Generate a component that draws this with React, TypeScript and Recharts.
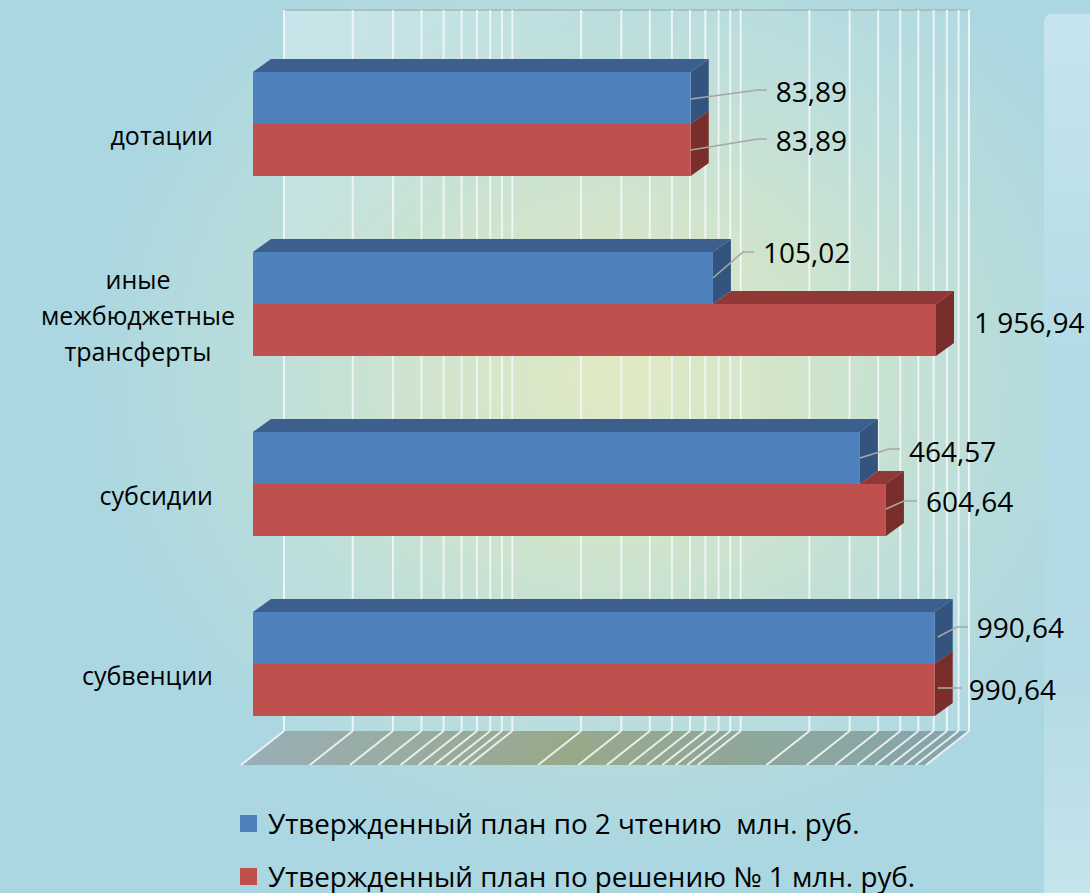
import React from 'react';
import { BarChart, Bar, XAxis, YAxis, ReferenceLine, ReferenceArea } from 'recharts';

// ---------- data ----------
const categories = ['дотации', 'иные\nмежбюджетные\nтрансферты', 'субсидии', 'субвенции'];
const planSecondReading = [83.89, 105.02, 464.57, 990.64];
const planDecisionOne = [83.89, 1956.94, 604.64, 990.64];
const seriesNames = [
  'Утвержденный план по 2 чтению  млн. руб.',
  'Утвержденный план по решению № 1 млн. руб.',
];
const gridTicks = [
  1, 2, 3, 4, 5, 6, 7, 8, 9,
  10, 20, 30, 40, 50, 60, 70, 80, 90,
  100, 200, 300, 400, 500, 600, 700, 800, 900, 1000,
];
const axisDomain = [1, 1000];

const data = categories.map((name, i) => ({
  name,
  plan2: planSecondReading[i],
  plan1: planDecisionOne[i],
}));

// ---------- style / layout constants ----------
const FONT = '"Open Sans", "Noto Sans", sans-serif';
const COLORS = {
  blue: { front: '#4f81bd', top: '#3c5f8e', side: '#33547f' },
  red: { front: '#c0504d', top: '#8f3835', side: '#7a2e2c' },
};
const DEPTH_X = 18;
const DEPTH_Y = 13;
const FRONT_PAD_RIGHT = 88; // front scale runs to the data maximum
const AXIS_MAX_FROM_RIGHT = 154; // pixel distance of the 1000 mark from the plot's right edge
const BACK_PAD_LEFT = 31;
const BACK_PAD_RIGHT = 121;
const WALL_RAISE_TOP = 24;
const FLOOR_RAISE = 23;
const FLOOR_DX = 43;
const FLOOR_DY = 34;

// label placement relative to (bar end, bar middle)
const labelLayout = [
  [
    { line: [[0, 1], [67, -8], [76, -8]], text: [85, -6] },
    { line: [[0, 0], [30, -26], [41, -26]], text: [50, -25] },
    { line: [[0, 0], [29, -9], [40, -9]], text: [49, -6] },
    { line: [[3, -1], [22, -11], [33, -11]], text: [42, -10] },
  ],
  [
    { line: [[0, 0], [67, -11], [76, -11]], text: [85, -9] },
    { line: null, text: [38, -7] },
    { line: [[0, -1], [18, -9], [31, -9]], text: [40, -8] },
    { line: [[3, -2], [27, -2]], text: [34, 0] },
  ],
];

function fmt(v: number) {
  const [i, d] = v.toFixed(2).split('.');
  return i.replace(/\B(?=(\d{3})+(?!\d))/g, ' ') + ',' + d;
}

function makeBarShape(series: 0 | 1) {
  const c = series === 0 ? COLORS.blue : COLORS.red;
  return (props: any) => {
    const { x, y, width, height, background, payload, value } = props;
    const idx = categories.indexOf(payload.name);
    let w = width;
    if (background && typeof background.x === 'number') {
      // the value axis ends at 1000: longer bars are cut there
      const maxRight = background.x + background.width - AXIS_MAX_FROM_RIGHT;
      w = Math.min(width, maxRight - x);
    }
    const xe = x + w;
    const h = height;
    const ym = y + h / 2;
    const top = `${x},${y} ${x + DEPTH_X},${y - DEPTH_Y} ${xe + DEPTH_X},${y - DEPTH_Y} ${xe},${y}`;
    const side = `${xe},${y} ${xe + DEPTH_X},${y - DEPTH_Y} ${xe + DEPTH_X},${y + h - DEPTH_Y} ${xe},${y + h}`;
    const lay = labelLayout[series][idx];
    const clipId = `redTopClip-${idx}`;
    return (
      <g>
        {series === 0 && (
          <defs>
            <clipPath id={clipId}>
              <polygon
                points={`${xe},${y + h} ${xe + DEPTH_X},${y + h - DEPTH_Y} 3000,${y + h - DEPTH_Y} 3000,${y + h + 2} ${xe},${y + h + 2}`}
              />
            </clipPath>
          </defs>
        )}
        <polygon
          points={top}
          fill={c.top}
          clipPath={series === 1 ? `url(#${clipId})` : undefined}
        />
        <polygon points={side} fill={c.side} />
        <rect x={x} y={y} width={w} height={h} fill={c.front} />
        {lay && lay.line && (
          <polyline
            points={lay.line.map(([dx, dy]) => `${xe + dx},${ym + dy}`).join(' ')}
            fill="none"
            stroke="#a6a6a6"
            strokeWidth={1.6}
          />
        )}
        {lay && (
          <text
            x={xe + lay.text[0]}
            y={ym + lay.text[1]}
            dy="0.36em"
            fontFamily={FONT}
            fontSize={28}
            fill="#000"
          >
            {fmt(value)}
          </text>
        )}
      </g>
    );
  };
}

const BlueShape = makeBarShape(0);
const RedShape = makeBarShape(1);

const WallLine = (props: any) => {
  const { x1, y1, y2 } = props;
  const top = Math.min(y1, y2);
  const bottom = Math.max(y1, y2);
  const yb = bottom - FLOOR_RAISE;
  return (
    <g>
      <line x1={x1} y1={top - WALL_RAISE_TOP} x2={x1} y2={yb} stroke="#f2f7f7" strokeWidth={2} opacity={0.9} />
      <line x1={x1} y1={yb} x2={x1 - FLOOR_DX} y2={yb + FLOOR_DY} stroke="#f2f7f7" strokeWidth={2} opacity={0.9} />
    </g>
  );
};

const FloorAndWall = (props: any) => {
  const { x, y, width, height } = props;
  const yb = y + height - FLOOR_RAISE;
  const yt = y - WALL_RAISE_TOP;
  return (
    <g>
      <rect x={x} y={yt} width={width} height={yb - yt} fill="url(#wallGrad)" />
      <line x1={x} y1={yt} x2={x + width} y2={yt} stroke="#9fb9b2" strokeWidth={1.5} />
      <polygon
        points={`${x},${yb} ${x + width},${yb} ${x + width - FLOOR_DX},${yb + FLOOR_DY} ${x - FLOOR_DX},${yb + FLOOR_DY}`}
        fill="url(#floorGrad)"
      />
    </g>
  );
};

const CategoryTick = (props: any) => {
  const { x, y, payload } = props;
  const lines = String(payload.value).split('\n');
  const fs = 25;
  const lh = 36;
  const yc = y + 12;
  if (lines.length === 1) {
    return (
      <text x={x} y={yc} dy="0.36em" textAnchor="end" fontFamily={FONT} fontSize={fs} fill="#000">
        {lines[0]}
      </text>
    );
  }
  const cx = x - 75;
  const y0 = yc - ((lines.length - 1) * lh) / 2;
  return (
    <text textAnchor="middle" fontFamily={FONT} fontSize={fs} fill="#000">
      {lines.map((l, i) => (
        <tspan key={i} x={cx} y={y0 + i * lh} dy="0.36em">
          {l}
        </tspan>
      ))}
    </text>
  );
};

export default function App() {
  return (
    <div
      style={{
        position: 'absolute',
        left: 0,
        top: 0,
        width: 1090,
        height: 893,
        overflow: 'hidden',
        background:
          'radial-gradient(ellipse 50% 55% at 57% 42%, #e0e9c0 0%, #cde3c9 35%, #b8dcdb 70%, #abd7e2 100%)',
        fontFamily: FONT,
      }}
    >
      <div
        style={{
          position: 'absolute',
          left: 1044,
          top: 14,
          width: 60,
          height: 890,
          borderRadius: 8,
          background: 'linear-gradient(180deg, #c7e5ee 0%, #b0dae5 45%, #b4dbe5 75%, #c6e5ec 100%)',
        }}
      />
      <div style={{ position: 'absolute', left: 0, top: 0 }}>
        <BarChart
          width={1090}
          height={893}
          layout="vertical"
          data={data}
          margin={{ top: 34, right: 0, bottom: 139, left: 0 }}
          barSize={52}
          barGap={0}
          barCategoryGap={38}
        >
          <defs>
            <linearGradient id="floorGrad" x1="0" y1="0" x2="1" y2="0">
              <stop offset="0%" stopColor="#98afb8" />
              <stop offset="45%" stopColor="#98a98a" />
              <stop offset="100%" stopColor="#84a5ae" />
            </linearGradient>
            <linearGradient id="wallGrad" x1="0" y1="0" x2="1" y2="1">
              <stop offset="0%" stopColor="#ffffff" stopOpacity={0.35} />
              <stop offset="25%" stopColor="#ffffff" stopOpacity={0.06} />
              <stop offset="100%" stopColor="#ffffff" stopOpacity={0.04} />
            </linearGradient>
          </defs>
          <XAxis
            xAxisId="front"
            type="number"
            scale="log"
            domain={[axisDomain[0], 'dataMax']}
            padding={{ left: 0, right: FRONT_PAD_RIGHT }}
            hide
          />
          <XAxis
            xAxisId="back"
            type="number"
            scale="log"
            domain={axisDomain}
            allowDataOverflow
            padding={{ left: BACK_PAD_LEFT, right: BACK_PAD_RIGHT }}
            hide
          />
          <YAxis
            type="category"
            dataKey="name"
            width={253}
            axisLine={false}
            tickLine={false}
            tickSize={0}
            tickMargin={40}
            tick={<CategoryTick />}
            interval={0}
          />
          <ReferenceArea
            xAxisId="back"
            x1={axisDomain[0]}
            x2={axisDomain[1]}
            shape={<FloorAndWall />}
            ifOverflow="visible"
            zIndex={-200}
          />
          {gridTicks.map((t) => (
            <ReferenceLine
              key={t}
              xAxisId="back"
              x={t}
              shape={<WallLine />}
              ifOverflow="visible"
              zIndex={-150}
            />
          ))}
          <Bar
            xAxisId="front"
            dataKey="plan2"
            name={seriesNames[0]}
            fill={COLORS.blue.front}
            shape={BlueShape}
            isAnimationActive={false}
          />
          <Bar
            xAxisId="front"
            dataKey="plan1"
            name={seriesNames[1]}
            fill={COLORS.red.front}
            shape={RedShape}
            isAnimationActive={false}
          />
        </BarChart>
      </div>
      <div style={{ position: 'absolute', left: 240, top: 809 }}>
        {seriesNames.map((s, i) => (
          <div
            key={s}
            style={{ display: 'flex', alignItems: 'center', height: 28, marginBottom: 25, whiteSpace: 'pre' }}
          >
            <span
              style={{
                display: 'inline-block',
                width: 17,
                height: 17,
                background: i === 0 ? COLORS.blue.front : COLORS.red.front,
                marginRight: 11,
              }}
            />
            <span style={{ fontSize: 27.8, lineHeight: '28px', color: '#000', fontFamily: FONT }}>{s}</span>
          </div>
        ))}
      </div>
    </div>
  );
}
